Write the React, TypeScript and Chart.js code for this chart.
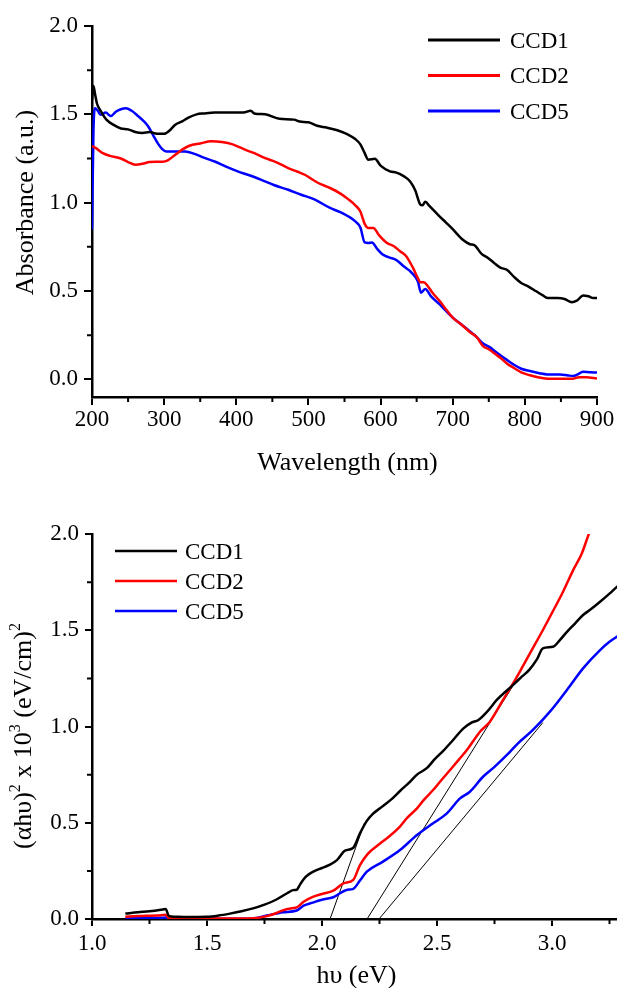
import React, { useEffect, useRef } from 'react';
import { Chart, registerables } from 'chart.js';

Chart.register(...registerables);

const FONT = '"Liberation Serif", "Times New Roman", Times, serif';

// ---------------- Top chart: absorbance vs wavelength ----------------
const ccd1Wavelength = [200, 202, 204, 207, 212, 220, 230, 240, 250, 260, 270, 280, 290, 300, 308, 315, 325, 333, 345, 355, 370, 390, 410, 420, 425, 440, 460, 480, 488, 500, 512, 525, 540, 555, 565, 572, 578, 583, 592, 600, 613, 622, 632, 641, 648, 655, 658, 662, 668, 680, 690, 700, 714, 724, 730, 740, 748, 757, 766, 775, 785, 795, 805, 815, 825, 832, 845, 855, 865, 872, 881, 888, 895, 900];
const ccd1Absorbance = [1.58, 1.66, 1.62, 1.56, 1.52, 1.47, 1.44, 1.42, 1.415, 1.4, 1.395, 1.4, 1.39, 1.39, 1.41, 1.44, 1.46, 1.48, 1.5, 1.505, 1.51, 1.51, 1.51, 1.52, 1.505, 1.5, 1.475, 1.47, 1.459, 1.455, 1.435, 1.425, 1.41, 1.385, 1.36, 1.33, 1.28, 1.243, 1.248, 1.21, 1.177, 1.17, 1.15, 1.12, 1.07, 0.99, 0.985, 1.005, 0.98, 0.93, 0.89, 0.85, 0.79, 0.765, 0.76, 0.71, 0.69, 0.66, 0.632, 0.62, 0.58, 0.545, 0.525, 0.5, 0.475, 0.46, 0.46, 0.455, 0.437, 0.445, 0.475, 0.47, 0.46, 0.46];

const ccd2Wavelength = [200, 205, 215, 225, 240, 250, 260, 270, 280, 298, 305, 315, 325, 335, 350, 365, 380, 395, 412, 425, 440, 455, 472, 485, 495, 510, 517, 530, 545, 555, 565, 572, 578, 583, 590, 598, 609, 618, 627, 635, 645, 652, 655, 660, 665, 672, 682, 690, 700, 712, 724, 733, 742, 750, 760, 766, 775, 784, 795, 807, 820, 831, 850, 867, 875, 885, 900];
const ccd2Absorbance = [1.32, 1.31, 1.28, 1.265, 1.25, 1.23, 1.215, 1.22, 1.23, 1.232, 1.24, 1.27, 1.3, 1.322, 1.335, 1.347, 1.343, 1.33, 1.3, 1.28, 1.252, 1.23, 1.196, 1.175, 1.158, 1.12, 1.105, 1.083, 1.05, 1.02, 0.985, 0.95, 0.88, 0.857, 0.857, 0.815, 0.772, 0.755, 0.725, 0.7, 0.631, 0.57, 0.55, 0.55, 0.53, 0.49, 0.443, 0.4, 0.349, 0.31, 0.267, 0.24, 0.188, 0.17, 0.14, 0.122, 0.09, 0.066, 0.04, 0.023, 0.01, 0.004, 0.003, 0.004, 0.012, 0.012, 0.004];

const ccd5Wavelength = [200, 202, 204, 208, 212, 219, 226, 233, 240, 247, 255, 264, 272, 278, 285, 291, 297, 303, 315, 329, 343, 355, 370, 385, 402, 418, 434, 452, 472, 490, 509, 530, 545, 555, 565, 572, 578, 583, 588, 595, 603, 612, 622, 632, 641, 648, 652, 656, 662, 670, 682, 690, 700, 712, 724, 733, 742, 750, 760, 766, 775, 784, 795, 807, 820, 831, 849, 860, 867, 874, 881, 890, 900];
const ccd5Absorbance = [0.85, 1.4, 1.535, 1.52, 1.497, 1.51, 1.49, 1.515, 1.529, 1.535, 1.52, 1.49, 1.46, 1.431, 1.38, 1.337, 1.305, 1.29, 1.29, 1.29, 1.275, 1.255, 1.233, 1.205, 1.177, 1.155, 1.13, 1.1, 1.073, 1.045, 1.017, 0.97, 0.945, 0.923, 0.894, 0.86, 0.775, 0.772, 0.775, 0.74, 0.706, 0.69, 0.675, 0.64, 0.612, 0.58, 0.55, 0.49, 0.512, 0.47, 0.424, 0.39, 0.349, 0.31, 0.271, 0.24, 0.203, 0.185, 0.155, 0.136, 0.11, 0.085, 0.06, 0.047, 0.035, 0.028, 0.028, 0.022, 0.019, 0.03, 0.043, 0.04, 0.038];

const topXTicks = [200, 300, 400, 500, 600, 700, 800, 900];
const topXMinor = [250, 350, 450, 550, 650, 750, 850];
const topYTicks = [0, 0.5, 1.0, 1.5, 2.0];
const topYMinor = [0.25, 0.75, 1.25, 1.75];

// ---------------- Bottom chart: Tauc plot ----------------
const ccd1Energy = [1.145, 1.2, 1.25, 1.3, 1.32, 1.335, 1.36, 1.4, 1.5, 1.55, 1.6, 1.65, 1.7, 1.75, 1.8, 1.85, 1.875, 1.89, 1.905, 1.93, 1.96, 2.0, 2.03, 2.065, 2.1, 2.136, 2.165, 2.195, 2.22, 2.252, 2.3, 2.339, 2.38, 2.413, 2.457, 2.49, 2.528, 2.57, 2.615, 2.65, 2.68, 2.72, 2.76, 2.83, 2.87, 2.9, 2.935, 2.96, 3.004, 3.035, 3.065, 3.1, 3.135, 3.17, 3.209, 3.25, 3.283, 3.3];
const ccd1Tauc = [0.028, 0.035, 0.04, 0.048, 0.052, 0.015, 0.012, 0.011, 0.012, 0.018, 0.028, 0.04, 0.055, 0.075, 0.1, 0.135, 0.15, 0.152, 0.18, 0.22, 0.245, 0.265, 0.28, 0.306, 0.355, 0.37, 0.445, 0.51, 0.545, 0.575, 0.62, 0.665, 0.71, 0.75, 0.785, 0.83, 0.875, 0.93, 0.99, 1.02, 1.034, 1.08, 1.138, 1.215, 1.26, 1.293, 1.35, 1.406, 1.414, 1.45, 1.492, 1.535, 1.579, 1.61, 1.648, 1.69, 1.726, 1.74];

const ccd2Energy = [1.145, 1.2, 1.3, 1.32, 1.335, 1.4, 1.5, 1.6, 1.7, 1.76, 1.8, 1.83, 1.87, 1.89, 1.92, 1.96, 2.0, 2.049, 2.093, 2.136, 2.165, 2.2, 2.25, 2.283, 2.339, 2.37, 2.413, 2.44, 2.483, 2.513, 2.557, 2.6, 2.63, 2.687, 2.73, 2.787, 2.848, 2.904, 2.96, 3.0, 3.048, 3.091, 3.13, 3.157, 3.17];
const ccd2Tauc = [0.012, 0.015, 0.02, 0.022, 0.004, 0.003, 0.002, 0.002, 0.004, 0.015, 0.03, 0.045, 0.056, 0.06, 0.09, 0.115, 0.13, 0.147, 0.185, 0.203, 0.28, 0.34, 0.39, 0.42, 0.48, 0.525, 0.575, 0.615, 0.67, 0.713, 0.774, 0.835, 0.878, 0.973, 1.025, 1.138, 1.259, 1.38, 1.5, 1.59, 1.7, 1.81, 1.9, 1.99, 2.03];

const ccd5Energy = [1.145, 1.3, 1.32, 1.335, 1.5, 1.7, 1.76, 1.8, 1.83, 1.89, 1.92, 1.96, 2.0, 2.049, 2.107, 2.136, 2.165, 2.195, 2.265, 2.339, 2.413, 2.483, 2.543, 2.6, 2.643, 2.7, 2.75, 2.804, 2.85, 2.917, 2.991, 3.065, 3.135, 3.209, 3.25, 3.283, 3.3];
const ccd5Tauc = [0.003, 0.006, 0.008, 0.002, 0.001, 0.003, 0.018, 0.028, 0.035, 0.044, 0.069, 0.085, 0.1, 0.113, 0.151, 0.157, 0.2, 0.246, 0.298, 0.358, 0.436, 0.497, 0.549, 0.627, 0.661, 0.739, 0.79, 0.852, 0.91, 0.982, 1.077, 1.19, 1.302, 1.397, 1.44, 1.467, 1.48];

// linear extrapolation (tangent) lines: [start energy, end energy], [start value, end value]
const tangent1Energy = [2.035, 2.185];
const tangent1Value = [0, 0.5];
const tangent2Energy = [2.196, 2.84];
const tangent2Value = [0, 1.23];
const tangent3Energy = [2.248, 2.96];
const tangent3Value = [0, 1.02];

const bottomXTicks = [1.0, 1.5, 2.0, 2.5, 3.0];
const bottomXMinor = [1.25, 1.75, 2.25, 2.75, 3.25];
const bottomYTicks = [0, 0.5, 1.0, 1.5, 2.0];
const bottomYMinor = [0.25, 0.75, 1.25, 1.75];

const seriesLabels = ['CCD1', 'CCD2', 'CCD5'];
const seriesColors = ['#000000', '#ff0000', '#0000ff'];

function pts(xs: number[], ys: number[]) {
  return xs.map((x, i) => ({ x, y: ys[i] }));
}

type Seg = { text: string; sup?: boolean };

interface DecorCfg {
  xMinor: number[];
  yMinor: number[];
  minorLen: number;
  legendLeft: number;
  legendTop: number;
  legendGap: number;
  legendLen: number;
  legendTextGap: number;
  legendLineWidth: number;
  legendSize: number;
  xTitle: string;
  xTitleDx: number;
  xTitleDy: number;
  yTitle: Seg[];
  yTitleDx: number;
  yTitleDy: number;
  titleSize: number;
}

function makeDecor(c: DecorCfg) {
  return {
    id: 'decor',
    afterDraw(chart: any) {
      const { ctx, chartArea: ca, scales } = chart;
      ctx.save();
      // minor ticks
      ctx.strokeStyle = '#000';
      ctx.lineWidth = 2;
      ctx.beginPath();
      c.xMinor.forEach((v) => {
        const px = scales.x.getPixelForValue(v);
        ctx.moveTo(px, ca.bottom);
        ctx.lineTo(px, ca.bottom + c.minorLen);
      });
      c.yMinor.forEach((v) => {
        const py = scales.y.getPixelForValue(v);
        ctx.moveTo(ca.left, py);
        ctx.lineTo(ca.left - c.minorLen, py);
      });
      ctx.stroke();

      // legend
      const items = chart.data.datasets.filter((d: any) => d.label);
      ctx.font = `${c.legendSize}px ${FONT}`;
      ctx.textAlign = 'left';
      ctx.textBaseline = 'alphabetic';
      items.forEach((d: any, i: number) => {
        const ly = ca.top + c.legendTop + i * c.legendGap;
        const lx = ca.left + c.legendLeft;
        ctx.strokeStyle = d.borderColor;
        ctx.lineWidth = c.legendLineWidth;
        ctx.beginPath();
        ctx.moveTo(lx, ly);
        ctx.lineTo(lx + c.legendLen, ly);
        ctx.stroke();
        ctx.fillStyle = '#000';
        ctx.fillText(d.label, lx + c.legendLen + c.legendTextGap, ly + c.legendSize * 0.34);
      });

      // x title
      ctx.font = `${c.titleSize}px ${FONT}`;
      ctx.textAlign = 'center';
      ctx.fillStyle = '#000';
      ctx.fillText(
        c.xTitle,
        (ca.left + ca.right) / 2 + c.xTitleDx,
        ca.bottom + c.xTitleDy + c.titleSize * 0.34
      );

      // y title (rotated, with superscripts)
      ctx.translate(ca.left - c.yTitleDx, (ca.top + ca.bottom) / 2 + c.yTitleDy);
      ctx.rotate(-Math.PI / 2);
      const base = c.titleSize;
      const supSize = Math.round(base * 0.6);
      const widths = c.yTitle.map((s) => {
        ctx.font = `${s.sup ? supSize : base}px ${FONT}`;
        return ctx.measureText(s.text).width;
      });
      const total = widths.reduce((a, b) => a + b, 0);
      let x = -total / 2;
      ctx.textAlign = 'left';
      const baseline = base * 0.34;
      c.yTitle.forEach((s, i) => {
        ctx.font = `${s.sup ? supSize : base}px ${FONT}`;
        ctx.fillText(s.text, x, s.sup ? baseline - base * 0.42 : baseline);
        x += widths[i];
      });
      ctx.restore();
    },
  };
}

function lineDataset(label: string | undefined, data: { x: number; y: number }[], color: string, width: number, smooth: boolean) {
  return {
    label,
    data,
    borderColor: color,
    backgroundColor: color,
    borderWidth: width,
    pointRadius: 0,
    pointHoverRadius: 0,
    fill: false,
    cubicInterpolationMode: smooth ? 'monotone' : 'default',
    tension: 0,
  };
}

function makeOptions(p: {
  xMin: number; xMax: number; yMin: number; yMax: number;
  xTicks: number[]; yTicks: number[];
  xFmt: (v: number) => string;
  padTop: number; padRight: number;
  yWidth: number; xHeight: number;
  tickLen: number; xPad: number; yPad: number;
}) {
  const tickFont = { family: FONT, size: 23 };
  return {
    responsive: false,
    animation: false,
    devicePixelRatio: 1,
    layout: { padding: { top: p.padTop, right: p.padRight, left: 0, bottom: 0 } },
    plugins: { legend: { display: false }, tooltip: { enabled: false }, title: { display: false } },
    events: [],
    scales: {
      x: {
        type: 'linear',
        min: p.xMin,
        max: p.xMax,
        afterBuildTicks: (s: any) => { s.ticks = p.xTicks.map((v) => ({ value: v })); },
        afterFit: (s: any) => { s.height = p.xHeight; },
        ticks: {
          font: tickFont, color: '#000', padding: p.xPad, maxRotation: 0, autoSkip: false,
          callback: (v: any) => p.xFmt(Number(v)),
        },
        grid: { drawOnChartArea: false, drawTicks: true, tickLength: p.tickLen, color: '#000', lineWidth: 2 },
        border: { display: true, color: '#000', width: 2.5 },
      },
      y: {
        type: 'linear',
        min: p.yMin,
        max: p.yMax,
        afterBuildTicks: (s: any) => { s.ticks = p.yTicks.map((v) => ({ value: v })); },
        afterFit: (s: any) => { s.width = p.yWidth; },
        ticks: {
          font: tickFont, color: '#000', padding: p.yPad, autoSkip: false,
          callback: (v: any) => Number(v).toFixed(1),
        },
        grid: { drawOnChartArea: false, drawTicks: true, tickLength: p.tickLen, color: '#000', lineWidth: 2 },
        border: { display: true, color: '#000', width: 2.5 },
      },
    },
  };
}

function ChartCanvas({ config, width, height, top }: { config: () => any; width: number; height: number; top: number }) {
  const ref = useRef<HTMLCanvasElement>(null);
  useEffect(() => {
    const chart = new Chart(ref.current as HTMLCanvasElement, config());
    return () => chart.destroy();
  }, []);
  return (
    <canvas
      ref={ref}
      width={width}
      height={height}
      style={{ position: 'absolute', left: 0, top, width, height, display: 'block' }}
    />
  );
}

function topConfig() {
  return {
    type: 'line',
    data: {
      datasets: [
        lineDataset(seriesLabels[0], pts(ccd1Wavelength, ccd1Absorbance), seriesColors[0], 2.5, true),
        lineDataset(seriesLabels[1], pts(ccd2Wavelength, ccd2Absorbance), seriesColors[1], 2.5, true),
        lineDataset(seriesLabels[2], pts(ccd5Wavelength, ccd5Absorbance), seriesColors[2], 2.5, true),
      ],
    },
    options: makeOptions({
      xMin: 200, xMax: 900, yMin: -0.1, yMax: 2.0,
      xTicks: topXTicks, yTicks: topYTicks,
      xFmt: (v) => String(Math.round(v)),
      padTop: 26, padRight: 20, yWidth: 92, xHeight: 93,
      tickLen: 8, xPad: 1, yPad: 6,
    }),
    plugins: [
      makeDecor({
        xMinor: topXMinor, yMinor: topYMinor, minorLen: 5,
        legendLeft: 336, legendTop: 14, legendGap: 35.5, legendLen: 72, legendTextGap: 10,
        legendLineWidth: 3, legendSize: 23,
        xTitle: 'Wavelength (nm)', xTitleDx: 3, xTitleDy: 64,
        yTitle: [{ text: 'Absorbance (a.u.)' }], yTitleDx: 68, yTitleDy: -9,
        titleSize: 26,
      }),
    ],
  };
}

function bottomConfig() {
  return {
    type: 'line',
    data: {
      datasets: [
        lineDataset(seriesLabels[0], pts(ccd1Energy, ccd1Tauc), seriesColors[0], 2.5, true),
        lineDataset(seriesLabels[1], pts(ccd2Energy, ccd2Tauc), seriesColors[1], 2.5, true),
        lineDataset(seriesLabels[2], pts(ccd5Energy, ccd5Tauc), seriesColors[2], 2.5, true),
        lineDataset(undefined, pts(tangent1Energy, tangent1Value), '#000000', 1, false),
        lineDataset(undefined, pts(tangent2Energy, tangent2Value), '#000000', 1, false),
        lineDataset(undefined, pts(tangent3Energy, tangent3Value), '#000000', 1, false),
      ],
    },
    options: makeOptions({
      xMin: 1.0, xMax: 3.3, yMin: 0, yMax: 2.0,
      xTicks: bottomXTicks, yTicks: bottomYTicks,
      xFmt: (v) => v.toFixed(1),
      padTop: 44, padRight: 19, yWidth: 92, xHeight: 69,
      tickLen: 7, xPad: 4, yPad: 6,
    }),
    plugins: [
      makeDecor({
        xMinor: bottomXMinor, yMinor: bottomYMinor, minorLen: 5,
        legendLeft: 23, legendTop: 17, legendGap: 30, legendLen: 62, legendTextGap: 8,
        legendLineWidth: 2.5, legendSize: 23,
        xTitle: 'h\u03c5 (eV)', xTitleDx: 0, xTitleDy: 55,
        yTitle: [
          { text: '(\u03b1h\u03c5)' },
          { text: '2', sup: true },
          { text: ' x 10' },
          { text: '3', sup: true },
          { text: ' (eV/cm)' },
          { text: '2', sup: true },
        ],
        yTitleDx: 70, yTitleDy: 9.5,
        titleSize: 26,
      }),
    ],
  };
}

export default function App() {
  return (
    <div style={{ position: 'fixed', left: 0, top: 0, width: 617, height: 988, overflow: 'hidden', background: '#fff' }}>
      <ChartCanvas config={topConfig} width={617} height={490} top={0} />
      <ChartCanvas config={bottomConfig} width={640} height={498} top={490} />
    </div>
  );
}
